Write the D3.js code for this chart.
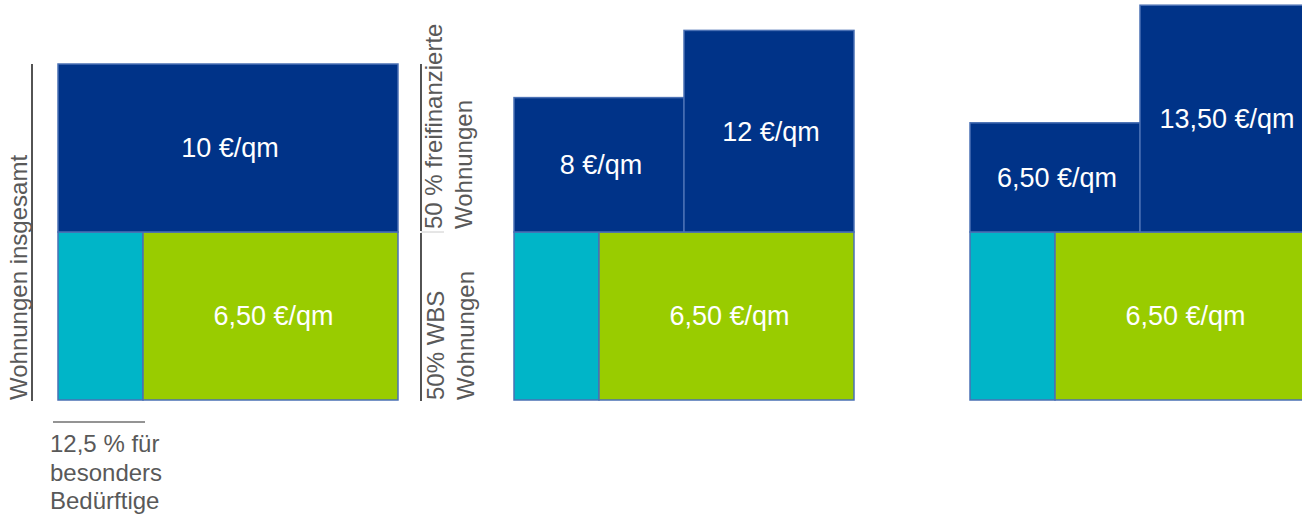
<!DOCTYPE html>
<html lang="de">
<head>
<meta charset="utf-8">
<script src="https://cdn.jsdelivr.net/npm/d3@7"></script>
<style>
  html, body { margin: 0; padding: 0; background: #ffffff; }
  svg { display: block; font-family: "Liberation Sans", Arial, sans-serif; }
</style>
</head>
<body>
<svg id="chart" width="1302" height="515"></svg>
<script>
// Rent models: each column splits flats into WBS and free-financed halves
const scenarios = ["Modell 1", "Modell 2", "Modell 3"];
const freePrices = [[10], [8, 12], [6.5, 13.5]];   // €/qm of the free-financed flats
const wbsPrices = [6.5, 6.5, 6.5];                  // €/qm of the WBS flats
const wbsShare = 50;                                // % WBS flats
const freeShare = 50;                               // % free-financed flats
const specialShare = 12.5;                          // % for people in special need

const sideLabels = {
  total: "Wohnungen insgesamt",
  free: ["50 % freifinanzierte", "Wohnungen"],
  wbs: ["50% WBS", "Wohnungen"],
  special: ["12,5 % für", "besonders", "Bedürftige"]
};

const colors = {
  free: "#003388",
  wbs: "#99cc00",
  special: "#00b5c8",
  edge: "#4a70b4",
  text: "#595959"
};

const svg = d3.select("#chart");
const baseY = 400;

// Horizontal placement of the three columns
const x = d3.scaleBand().domain(scenarios).range([58, 1310]).paddingInner(0.2544).paddingOuter(0);
const bw = x.bandwidth();

// Vertical: lower row is sized by share of flats, upper boxes by rent level
const shareH = d3.scaleLinear().domain([0, 100]).range([0, 336]);
const priceH = d3.scaleLinear().domain([0, 10]).range([0, 168]);
const midY = baseY - shareH(wbsShare);

const fmt = v => (Number.isInteger(v) ? String(v) : v.toFixed(2).replace(".", ",")) + " €/qm";

scenarios.forEach((s, i) => {
  const g = svg.append("g");
  const x0 = x(s);
  const specialW = bw * specialShare / wbsShare;

  // lower row: special-need part and remaining WBS part
  g.append("rect")
    .attr("x", x0).attr("y", midY)
    .attr("width", specialW).attr("height", shareH(wbsShare))
    .attr("fill", colors.special).attr("stroke", colors.edge).attr("stroke-width", 1.5);
  g.append("rect")
    .attr("x", x0 + specialW).attr("y", midY)
    .attr("width", bw - specialW).attr("height", shareH(wbsShare))
    .attr("fill", colors.wbs).attr("stroke", colors.edge).attr("stroke-width", 1.5);
  g.append("text")
    .attr("x", x0 + specialW + (bw - specialW) / 2 + 3)
    .attr("y", midY + shareH(wbsShare) / 2)
    .attr("dy", "0.35em")
    .attr("text-anchor", "middle")
    .attr("fill", "#ffffff").attr("font-size", 27)
    .text(fmt(wbsPrices[i]));

  // upper row: free-financed flats, one box per rent level
  const prices = freePrices[i];
  const colW = bw / prices.length;
  prices.forEach((p, j) => {
    const h = priceH(p);
    g.append("rect")
      .attr("x", x0 + j * colW).attr("y", midY - h)
      .attr("width", colW).attr("height", h)
      .attr("fill", colors.free).attr("stroke", colors.edge).attr("stroke-width", 1.5);
    g.append("text")
      .attr("x", x0 + j * colW + colW / 2 + 2)
      .attr("y", midY - h / 2)
      .attr("dy", "0.35em")
      .attr("text-anchor", "middle")
      .attr("fill", "#ffffff").attr("font-size", 27)
      .text(fmt(p));
  });
});

// Annotations around the first column
const x0 = x(scenarios[0]);
const x1 = x0 + bw;
const topY = midY - priceH(freePrices[0][0]);
const ann = svg.append("g").attr("fill", colors.text).attr("font-size", 24);

// total bracket on the left
ann.append("line")
  .attr("x1", 32).attr("x2", 32).attr("y1", topY).attr("y2", baseY + 1)
  .attr("stroke", "#1a1a1a").attr("stroke-width", 1.5);
ann.append("text")
  .attr("transform", `translate(26.5,${baseY}) rotate(-90)`)
  .text(sideLabels.total);

// brackets on the right for the two halves
const rx = x1 + 23;
ann.append("line")
  .attr("x1", rx).attr("x2", rx).attr("y1", topY).attr("y2", midY - 1)
  .attr("stroke", "#1a1a1a").attr("stroke-width", 1.5);
ann.append("line")
  .attr("x1", rx).attr("x2", rx + 23).attr("y1", midY).attr("y2", midY)
  .attr("stroke", "#cccccc").attr("stroke-width", 1);
ann.append("line")
  .attr("x1", rx).attr("x2", rx).attr("y1", midY + 1).attr("y2", baseY + 1)
  .attr("stroke", "#1a1a1a").attr("stroke-width", 1.5);

sideLabels.free.forEach((t, k) => {
  ann.append("text")
    .attr("transform", `translate(${rx + 21 + k * 30},${midY - 3}) rotate(-90)`)
    .text(t);
});
sideLabels.wbs.forEach((t, k) => {
  ann.append("text")
    .attr("transform", `translate(${rx + 23 + k * 30},${baseY}) rotate(-90)`)
    .text(t);
});

// special-need bracket below
const specialRight = x0 + bw * specialShare / wbsShare;
ann.append("line")
  .attr("x1", x0 - 5).attr("x2", specialRight + 2).attr("y1", 422).attr("y2", 422)
  .attr("stroke", "#707070").attr("stroke-width", 1.5);
sideLabels.special.forEach((t, k) => {
  ann.append("text")
    .attr("x", x0 - 8).attr("y", 452 + k * 28.5)
    .text(t);
});
</script>
</body>
</html>
